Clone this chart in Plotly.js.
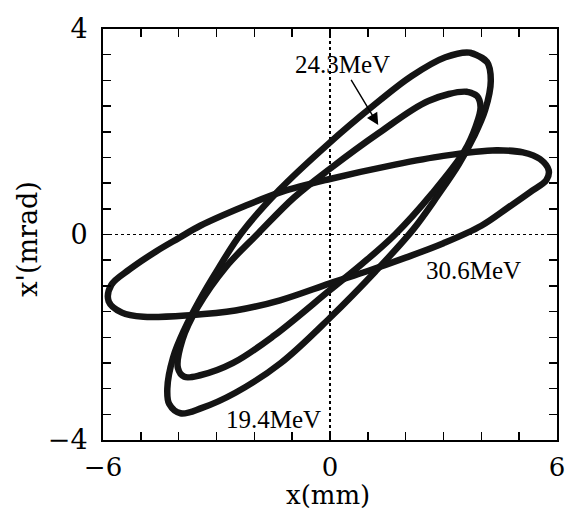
<!DOCTYPE html>
<html>
<head>
<meta charset="utf-8">
<script src="https://cdn.plot.ly/plotly-3.0.1.min.js"></script>
<style>
  html, body { margin: 0; padding: 0; background: #ffffff; }
  #chart { width: 568px; height: 511px; }
</style>
</head>
<body>
<div id="chart"></div>
<script>
// Phase-space ellipse outlines (x in mm, x' in mrad)
const x194 = [3.70, 4.15, 4.25, 4.10, 3.80, 3.40, 2.85, 2.20, 1.20, 0.00, -1.30, -2.50, -3.40, -3.95, -4.25, -4.30, -4.15, -3.85, -3.45, -2.95, -2.35, -1.35, -0.05, 1.10, 2.15, 3.05];
const y194 = [3.54, 3.36, 3.00, 2.42, 1.90, 1.36, 0.76, 0.10, -0.72, -1.62, -2.50, -3.08, -3.38, -3.48, -3.30, -3.00, -2.40, -1.85, -1.28, -0.66, 0.02, 0.86, 1.76, 2.48, 3.08, 3.45];

const x243 = [3.60, 3.88, 3.98, 3.85, 3.55, 2.70, 1.72, 0.85, 0.00, -1.50, -2.56, -3.43, -3.85, -4.02, -3.90, -3.50, -2.75, -1.90, -0.95, 0.00, 1.30, 2.60];
const y243 = [2.78, 2.70, 2.48, 2.10, 1.62, 0.80, 0.00, -0.57, -1.08, -1.98, -2.50, -2.74, -2.77, -2.60, -2.05, -1.42, -0.63, 0.02, 0.72, 1.28, 1.98, 2.60];

const x306 = [4.40, 5.10, 5.55, 5.78, 5.72, 5.30, 4.70, 4.00, 3.00, 2.00, 1.00, 0.00, -1.32, -2.50, -3.70, -4.93, -5.50, -5.85, -5.78, -5.30, -4.60, -4.00, -3.43, -2.30, -1.28, 0.00, 1.72, 3.00];
const y306 = [1.64, 1.60, 1.47, 1.25, 1.06, 0.83, 0.52, 0.17, -0.17, -0.45, -0.71, -0.95, -1.28, -1.48, -1.57, -1.60, -1.52, -1.30, -0.98, -0.68, -0.33, -0.07, 0.17, 0.54, 0.83, 1.08, 1.36, 1.53];

const seriesNames = ["19.4MeV", "24.3MeV", "30.6MeV"];
const labelX = [-1.49, 0.32, 3.79];
const labelY = [-3.60, 3.30, -0.71];
const arrowTipX = 1.275, arrowTipY = 2.13;

const xTickVals = [-6, 0, 6];
const yTickVals = [-4, 0, 4];
const xTitle = 'x(mm)';
const yTitle = "x'(mrad)";

// close each loop by wrapping the first two read points
function closeLoop(a) { return a.concat([a[0], a[1]]); }

const lineStyle = { color: '#141414', width: 6.5, shape: 'spline', smoothing: 1.0 };
const data = [
  { x: closeLoop(x194), y: closeLoop(y194), name: seriesNames[0] },
  { x: closeLoop(x243), y: closeLoop(y243), name: seriesNames[1] },
  { x: closeLoop(x306), y: closeLoop(y306), name: seriesNames[2] }
].map(t => Object.assign(t, { type: 'scatter', mode: 'lines', line: lineStyle, hoverinfo: 'skip' }));

const yTickFont = { family: 'DejaVu Serif, serif', size: 27, color: '#000' };
const xTickFont = { family: 'DejaVu Serif, serif', size: 26, color: '#000' };
const titleFont = { family: 'DejaVu Serif, serif', size: 27, color: '#000' };
const xTitleFont = { family: 'DejaVu Serif, serif', size: 26, color: '#000' };
const annFont = { family: 'Liberation Serif, serif', size: 25, color: '#000' };

const axisCommon = {
  showline: true, linecolor: '#000', linewidth: 2, mirror: 'allticks',
  ticks: 'inside', ticklen: 8, tickwidth: 1.5, tickcolor: '#000',
  showgrid: true, gridcolor: '#000', griddash: 'dot', gridwidth: 1.3,
  zeroline: false, automargin: false, fixedrange: true
};

const layout = {
  width: 568, height: 511,
  margin: { l: 103, r: 11, t: 29, b: 71 },
  paper_bgcolor: '#fff', plot_bgcolor: '#fff',
  showlegend: false,
  xaxis: Object.assign({}, axisCommon, {
    range: [-6, 6], tickmode: 'array', tickvals: xTickVals, tickfont: xTickFont,
    ticklabelstandoff: 3,
    minor: { dtick: 1, tick0: 0, ticks: 'inside', ticklen: 8, tickwidth: 1.5, tickcolor: '#000', showgrid: false }
  }),
  yaxis: Object.assign({}, axisCommon, {
    range: [-4, 4], tickmode: 'array', tickvals: yTickVals, tickfont: yTickFont,
    ticklabelstandoff: 8,
    minor: { dtick: 0.5, tick0: 0, ticks: 'inside', ticklen: 8, tickwidth: 1.5, tickcolor: '#000', showgrid: false }
  }),
  annotations: [
    { x: labelX[0], y: labelY[0], text: seriesNames[0], showarrow: false, font: annFont, xanchor: 'center', yanchor: 'middle' },
    { x: arrowTipX, y: arrowTipY, text: seriesNames[1], showarrow: true,
      ax: (labelX[1] - arrowTipX) * 37.8, ay: -(labelY[1] - arrowTipY) * 51.4,
      arrowhead: 2, arrowsize: 1.7, arrowwidth: 1.4, arrowcolor: '#000', font: annFont },
    { x: labelX[2], y: labelY[2], text: seriesNames[2], showarrow: false, font: annFont, xanchor: 'center', yanchor: 'middle' },
    // axis titles
    { xref: 'paper', yref: 'paper', x: 0.495, y: -0.1727, text: xTitle, showarrow: false,
      font: xTitleFont, xanchor: 'center', yanchor: 'bottom', borderpad: 0 },
    { xref: 'paper', yref: 'paper', x: -0.165, y: 0.49, text: yTitle, showarrow: false,
      font: titleFont, xanchor: 'center', yanchor: 'middle', textangle: -90 }
  ]
};

Plotly.newPlot('chart', data, layout, { displayModeBar: false, staticPlot: true });
</script>
</body>
</html>
